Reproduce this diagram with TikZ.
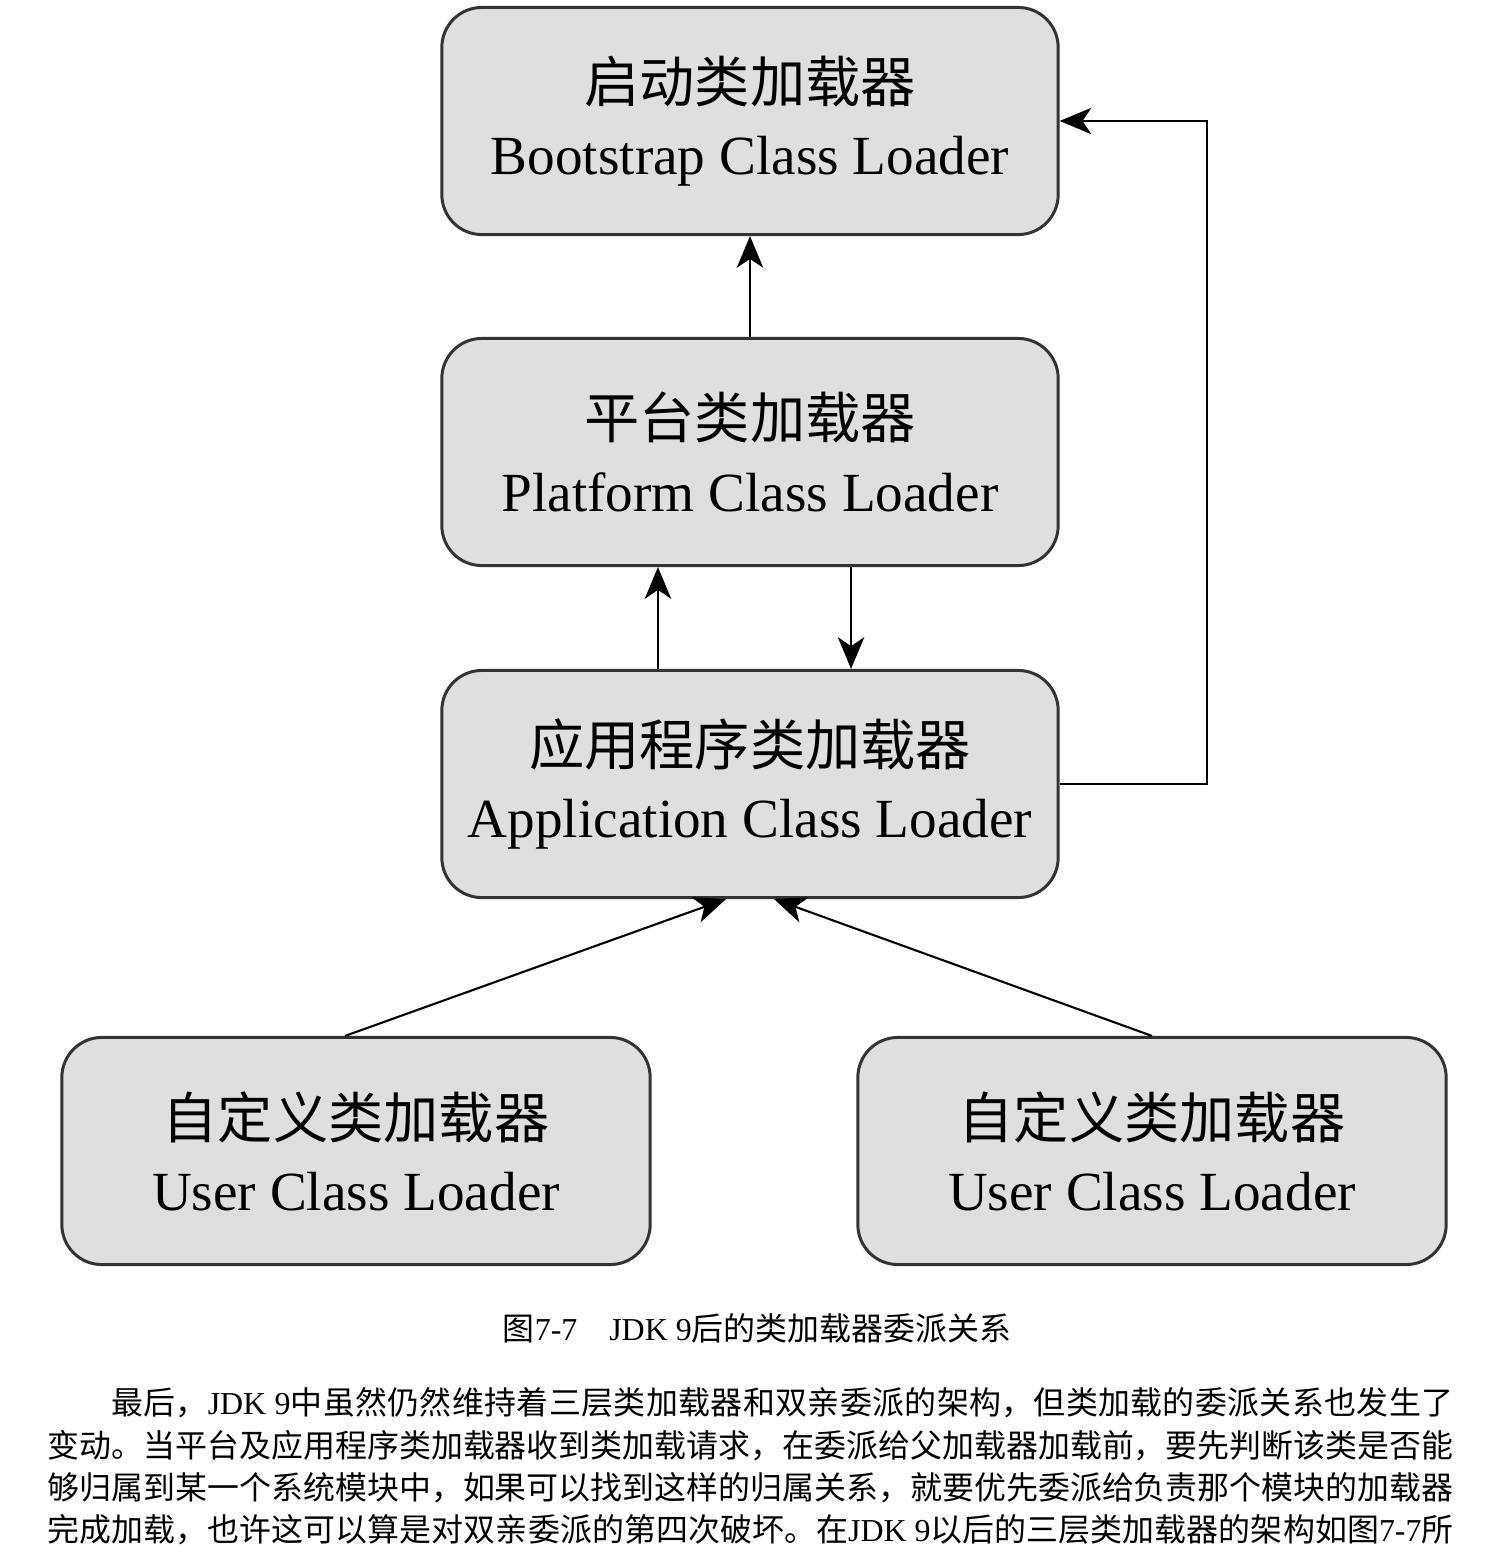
\documentclass[tikz,border=0pt]{standalone}
\usepackage{fontspec}
\setmainfont{Liberation Serif}
\newfontfamily\cjk{Noto Sans CJK SC}
\usepackage{xcolor}
\usetikzlibrary{arrows.meta,positioning}
\definecolor{boxgray}{RGB}{221,223,224}
\XeTeXlinebreaklocale "zh"
\XeTeXlinebreakskip=0pt plus 1pt minus 0.5pt
\newcommand{\zh}[1]{{\cjk #1}}

\begin{document}
\begin{tikzpicture}[
    x=0.01cm, y=-0.01cm,
    loader/.style={rectangle, rounded corners=0.4cm, draw=black!80, fill=boxgray, line width=0.85pt, minimum width=6.16cm, minimum height=2.27cm, align=center, font=\fontsize{15.7}{20.5}\selectfont},
    userloader/.style={loader, minimum width=5.88cm},
    arrow/.style={-{Stealth[length=9pt, width=7.5pt, inset=2.5pt]}, line width=0.6pt},
    figcaption/.style={inner sep=0pt, font=\fontsize{9.08}{11}\selectfont},
    bodyline/.style={anchor=west, inner sep=0pt, text width=14.05cm, align=justify, font=\fontsize{9.08}{11}\selectfont, execute at begin node={\parfillskip=0pt\relax}}
]
    \fill[white] (0,0) rectangle (1488,1560);
    \useasboundingbox (0,0) rectangle (1488,1560);

    % Loaders
    \node[loader] (boot) at (750,121) {\zh{启动类加载器}\\Bootstrap Class Loader};
    \node[loader] (platform) at (750,452) {\zh{平台类加载器}\\Platform Class Loader};
    \node[loader] (app) at (750,784) {\zh{应用程序类加载器}\\Application Class Loader};
    \node[userloader] (userA) at (356,1151) {\zh{自定义类加载器}\\User Class Loader};
    \node[userloader] (userB) at (1152,1151) {\zh{自定义类加载器}\\User Class Loader};

    % Delegation
    \draw[arrow] (platform) -- (boot);
    \draw[arrow] ([xshift=-0.92cm]app.north) -- ([xshift=-0.92cm]platform.south);
    \draw[arrow] ([xshift=1.01cm]platform.south) -- ([xshift=1.01cm]app.north);
    \coordinate (turn) at (1207,784);
    \draw[arrow] (app.east) -- (turn) |- (boot.east);
    \draw[arrow] ([xshift=-0.11cm]userA.north) -- ([xshift=-0.24cm]app.south);
    \draw[arrow] (userB.north) -- ([xshift=0.24cm]app.south);

    % Caption
    \node[figcaption] (cap) at (757,1328) {\zh{图}7-7\hspace{1em}JDK 9\zh{后的类加载器委派关系}};

    % Text below
    \node[bodyline] (l1) at (47,1403) {\hspace*{2em}\zh{最后，}JDK 9\zh{中虽然仍然维持着三层类加载器和双亲委派的架构，但类加载的委派关系也发生了}};
    \node[bodyline] (l2) at (47,1446) {\zh{变动。当平台及应用程序类加载器收到类加载请求，在委派给父加载器加载前，要先判断该类是否能}};
    \node[bodyline] (l3) at (47,1488) {\zh{够归属到某一个系统模块中，如果可以找到这样的归属关系，就要优先委派给负责那个模块的加载器}};
    \node[bodyline] (l4) at (47,1530) {\zh{完成加载，也许这可以算是对双亲委派的第四次破坏。在}JDK 9\zh{以后的三层类加载器的架构如图}7-7\zh{所}};
\end{tikzpicture}
\end{document}
